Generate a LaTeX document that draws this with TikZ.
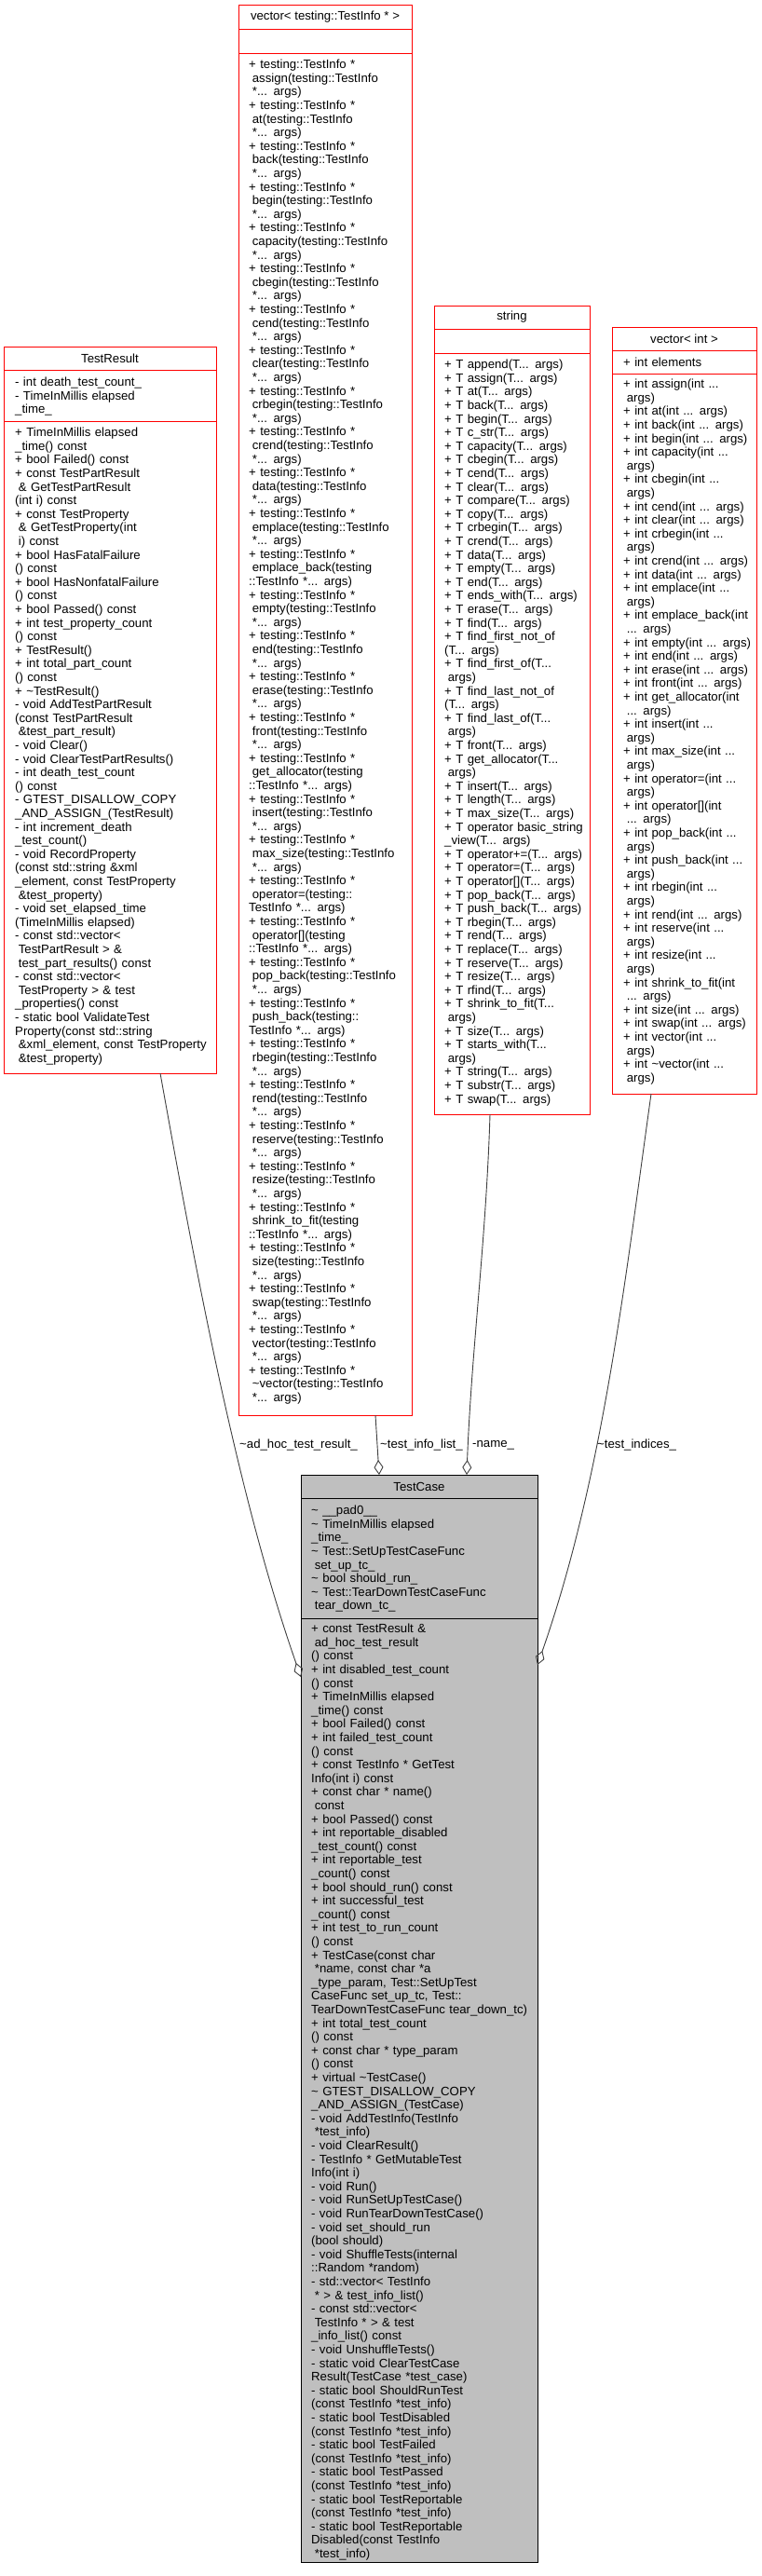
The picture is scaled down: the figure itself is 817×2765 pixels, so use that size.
\documentclass[tikz,border=0pt]{standalone}
\usepackage{fontspec}
\setmainfont{Liberation Sans}
\usetikzlibrary{arrows.meta,calc}
\setlength\parindent{0pt}
\definecolor{edgegray}{HTML}{404040}
\definecolor{tcfill}{HTML}{BFBFBF}
\newcommand\ind{\hspace*{0.278em}}
\newcommand\tld{\textasciitilde}
\newcommand\vA[1]{+ testing::TestInfo *\\ \ind #1(testing::TestInfo\\ \ind *... args)}
\newcommand\vB[1]{+ testing::TestInfo *\\ \ind #1(testing\\ ::TestInfo *... args)}
\newcommand\vC[1]{+ testing::TestInfo *\\ \ind #1(testing::\\ TestInfo *... args)}
\newcommand\sT[1]{+ T #1(T... args)}
\tikzset{
  cls/.style={draw=red, fill=white, line width=1pt, inner sep=0pt, outer sep=0pt},
  tcls/.style={draw=black, fill=tcfill, line width=1pt, inner sep=0pt, outer sep=0pt},
  sepline/.style={draw=red, line width=1pt},
  tsepline/.style={draw=black, line width=1pt},
  txt/.style={anchor=north west, inner sep=0pt, align=left, text width=400pt, font=\fontsize{13.2}{14.6}\selectfont},
  ttl/.style={anchor=center, inner sep=0pt, font=\fontsize{13.2}{14.6}\selectfont},
  elabel/.style={anchor=west, inner sep=0pt, font=\fontsize{13.2}{14.6}\selectfont},
  edge/.style={draw=edgegray, line width=0.9pt, -{Diamond[open, length=16pt, width=10pt, line width=0.9pt]}}
}
\begin{document}
\begin{tikzpicture}[x=1pt, y=-1pt]
\useasboundingbox (0,0) rectangle (817,2765);
\fill[white] (0,0) rectangle (817,2765);

% ---------- TestResult ----------
\node[cls, minimum width=228pt, minimum height=780pt] (tr) at (118,762) {};
\draw[sepline] (tr.west |- 0,397) -- (tr.east |- 0,397);
\draw[sepline] (tr.west |- 0,452) -- (tr.east |- 0,452);
\node[ttl] (trt) at (118,384.5) {TestResult};
\node[txt] (tra) at (16,404.3) {\strut- int death\_test\_count\_\\
- TimeInMillis elapsed\\
\_time\_};
\node[txt] (trm) at (16,458.3) {\strut+ TimeInMillis elapsed\\
\_time() const\\
+ bool Failed() const\\
+ const TestPartResult\\
\ind\& GetTestPartResult\\
(int i) const\\
+ const TestProperty\\
\ind\& GetTestProperty(int\\
\ind i) const\\
+ bool HasFatalFailure\\
() const\\
+ bool HasNonfatalFailure\\
() const\\
+ bool Passed() const\\
+ int test\_property\_count\\
() const\\
+ TestResult()\\
+ int total\_part\_count\\
() const\\
+ \tld TestResult()\\
- void AddTestPartResult\\
(const TestPartResult\\
\ind\&test\_part\_result)\\
- void Clear()\\
- void ClearTestPartResults()\\
- int death\_test\_count\\
() const\\
- GTEST\_DISALLOW\_COPY\\
\_AND\_ASSIGN\_(TestResult)\\
- int increment\_death\\
\_test\_count()\\
- void RecordProperty\\
(const std::string \&xml\\
\_element, const TestProperty\\
\ind\&test\_property)\\
- void set\_elapsed\_time\\
(TimeInMillis elapsed)\\
- const std::vector<\\
\ind TestPartResult > \&\\
\ind test\_part\_results() const\\
- const std::vector<\\
\ind TestProperty > \& test\\
\_properties() const\\
- static bool ValidateTest\\
Property(const std::string\\
\ind\&xml\_element, const TestProperty\\
\ind\&test\_property)};

% ---------- vector< testing::TestInfo * > ----------
\node[cls, minimum width=186pt, minimum height=1514pt] (vti) at (349,762) {};
\draw[sepline] (vti.west |- 0,31) -- (vti.east |- 0,31);
\draw[sepline] (vti.west |- 0,57) -- (vti.east |- 0,57);
\node[ttl] (vtit) at (349,18) {vector< testing::TestInfo * >};
\node[txt] (vtim) at (267,63.3) {\strut\vA{assign}\\
\vA{at}\\
\vA{back}\\
\vA{begin}\\
\vA{capacity}\\
\vA{cbegin}\\
\vA{cend}\\
\vA{clear}\\
\vA{crbegin}\\
\vA{crend}\\
\vA{data}\\
\vA{emplace}\\
\vB{emplace\_back}\\
\vA{empty}\\
\vA{end}\\
\vA{erase}\\
\vA{front}\\
\vB{get\_allocator}\\
\vA{insert}\\
\vA{max\_size}\\
\vC{operator=}\\
\vB{operator[]}\\
\vA{pop\_back}\\
\vC{push\_back}\\
\vA{rbegin}\\
\vA{rend}\\
\vA{reserve}\\
\vA{resize}\\
\vB{shrink\_to\_fit}\\
\vA{size}\\
\vA{swap}\\
\vA{vector}\\
\vA{\tld vector}};

% ---------- string ----------
\node[cls, minimum width=167pt, minimum height=868pt] (str) at (549.5,762) {};
\draw[sepline] (str.west |- 0,353) -- (str.east |- 0,353);
\draw[sepline] (str.west |- 0,379) -- (str.east |- 0,379);
\node[ttl] (strt) at (549.5,340.5) {string};
\node[txt] (strm) at (477,385.3) {\strut\sT{append}\\
\sT{assign}\\
\sT{at}\\
\sT{back}\\
\sT{begin}\\
\sT{c\_str}\\
\sT{capacity}\\
\sT{cbegin}\\
\sT{cend}\\
\sT{clear}\\
\sT{compare}\\
\sT{copy}\\
\sT{crbegin}\\
\sT{crend}\\
\sT{data}\\
\sT{empty}\\
\sT{end}\\
\sT{ends\_with}\\
\sT{erase}\\
\sT{find}\\
+ T find\_first\_not\_of\\
(T... args)\\
+ T find\_first\_of(T...\\
\ind args)\\
+ T find\_last\_not\_of\\
(T... args)\\
+ T find\_last\_of(T...\\
\ind args)\\
\sT{front}\\
+ T get\_allocator(T...\\
\ind args)\\
\sT{insert}\\
\sT{length}\\
\sT{max\_size}\\
+ T operator basic\_string\\
\_view(T... args)\\
\sT{operator+=}\\
\sT{operator=}\\
\sT{operator[]}\\
\sT{pop\_back}\\
\sT{push\_back}\\
\sT{rbegin}\\
\sT{rend}\\
\sT{replace}\\
\sT{reserve}\\
\sT{resize}\\
\sT{rfind}\\
+ T shrink\_to\_fit(T...\\
\ind args)\\
\sT{size}\\
+ T starts\_with(T...\\
\ind args)\\
\sT{string}\\
\sT{substr}\\
\sT{swap}};

% ---------- vector< int > ----------
\node[cls, minimum width=155pt, minimum height=823pt] (vin) at (734.5,762.5) {};
\draw[sepline] (vin.west |- 0,376) -- (vin.east |- 0,376);
\draw[sepline] (vin.west |- 0,401) -- (vin.east |- 0,401);
\node[ttl] (vint) at (734.5,363.5) {vector< int >};
\node[txt] (vina) at (669,382.8) {\strut+ int elements};
\node[txt] (vinm) at (669,406.3) {\strut+ int assign(int ...\\ \ind args)\\
+ int at(int ... args)\\
+ int back(int ... args)\\
+ int begin(int ... args)\\
+ int capacity(int ...\\ \ind args)\\
+ int cbegin(int ...\\ \ind args)\\
+ int cend(int ... args)\\
+ int clear(int ... args)\\
+ int crbegin(int ...\\ \ind args)\\
+ int crend(int ... args)\\
+ int data(int ... args)\\
+ int emplace(int ...\\ \ind args)\\
+ int emplace\_back(int\\ \ind ... args)\\
+ int empty(int ... args)\\
+ int end(int ... args)\\
+ int erase(int ... args)\\
+ int front(int ... args)\\
+ int get\_allocator(int\\ \ind ... args)\\
+ int insert(int ...\\ \ind args)\\
+ int max\_size(int ...\\ \ind args)\\
+ int operator=(int ...\\ \ind args)\\
+ int operator[](int\\ \ind ... args)\\
+ int pop\_back(int ...\\ \ind args)\\
+ int push\_back(int ...\\ \ind args)\\
+ int rbegin(int ...\\ \ind args)\\
+ int rend(int ... args)\\
+ int reserve(int ...\\ \ind args)\\
+ int resize(int ...\\ \ind args)\\
+ int shrink\_to\_fit(int\\ \ind ... args)\\
+ int size(int ... args)\\
+ int swap(int ... args)\\
+ int vector(int ...\\ \ind args)\\
+ int \tld vector(int ...\\ \ind args)};

% ---------- TestCase ----------
\node[tcls, minimum width=254pt, minimum height=1167pt] (tc) at (450,2166.5) {};
\draw[tsepline] (tc.west |- 0,1608) -- (tc.east |- 0,1608);
\draw[tsepline] (tc.west |- 0,1737) -- (tc.east |- 0,1737);
\node[ttl] (tct) at (450,1595.5) {TestCase};
\node[txt] (tca) at (334,1615.3) {\strut\tld{} \_\_pad0\_\_\\
\tld{} TimeInMillis elapsed\\
\_time\_\\
\tld{} Test::SetUpTestCaseFunc\\
\ind set\_up\_tc\_\\
\tld{} bool should\_run\_\\
\tld{} Test::TearDownTestCaseFunc\\
\ind tear\_down\_tc\_};
\node[txt] (tcm) at (334,1742.3) {\strut+ const TestResult \&\\
\ind ad\_hoc\_test\_result\\
() const\\
+ int disabled\_test\_count\\
() const\\
+ TimeInMillis elapsed\\
\_time() const\\
+ bool Failed() const\\
+ int failed\_test\_count\\
() const\\
+ const TestInfo * GetTest\\
Info(int i) const\\
+ const char * name()\\
\ind const\\
+ bool Passed() const\\
+ int reportable\_disabled\\
\_test\_count() const\\
+ int reportable\_test\\
\_count() const\\
+ bool should\_run() const\\
+ int successful\_test\\
\_count() const\\
+ int test\_to\_run\_count\\
() const\\
+ TestCase(const char\\
\ind *name, const char *a\\
\_type\_param, Test::SetUpTest\\
CaseFunc set\_up\_tc, Test::\\
TearDownTestCaseFunc tear\_down\_tc)\\
+ int total\_test\_count\\
() const\\
+ const char * type\_param\\
() const\\
+ virtual \tld TestCase()\\
\tld{} GTEST\_DISALLOW\_COPY\\
\_AND\_ASSIGN\_(TestCase)\\
- void AddTestInfo(TestInfo\\
\ind *test\_info)\\
- void ClearResult()\\
- TestInfo * GetMutableTest\\
Info(int i)\\
- void Run()\\
- void RunSetUpTestCase()\\
- void RunTearDownTestCase()\\
- void set\_should\_run\\
(bool should)\\
- void ShuffleTests(internal\\
::Random *random)\\
- std::vector< TestInfo\\
\ind * > \& test\_info\_list()\\
- const std::vector<\\
\ind TestInfo * > \& test\\
\_info\_list() const\\
- void UnshuffleTests()\\
- static void ClearTestCase\\
Result(TestCase *test\_case)\\
- static bool ShouldRunTest\\
(const TestInfo *test\_info)\\
- static bool TestDisabled\\
(const TestInfo *test\_info)\\
- static bool TestFailed\\
(const TestInfo *test\_info)\\
- static bool TestPassed\\
(const TestInfo *test\_info)\\
- static bool TestReportable\\
(const TestInfo *test\_info)\\
- static bool TestReportable\\
Disabled(const TestInfo\\
\ind *test\_info)};

% ---------- connectors ----------
\draw[edge] ($(tr.south)+(54,0)$) .. controls (208,1352) and (253,1600) .. ($(tc.north west)+(0,217)$);
\draw[edge] ($(vti.south)+(54,0)$) -- ($(tc.north west)+(84,0)$);
\draw[edge] ($(str.south)+(-23.5,0)$) .. controls (522,1330) and (506,1450) .. ($(tc.north west)+(178,0)$);
\draw[edge] ($(vin.south)+(-35.5,0)$) .. controls (671,1374) and (647,1587) .. ($(tc.north east)+(0,204)$);

\node[elabel] (l1) at (257,1551) {\tld ad\_hoc\_test\_result\_};
\node[elabel] (l2) at (408,1551) {\tld test\_info\_list\_};
\node[elabel] (l3) at (507,1551) {-name\_};
\node[elabel] (l4) at (641,1551) {\tld test\_indices\_};
\end{tikzpicture}
\end{document}
